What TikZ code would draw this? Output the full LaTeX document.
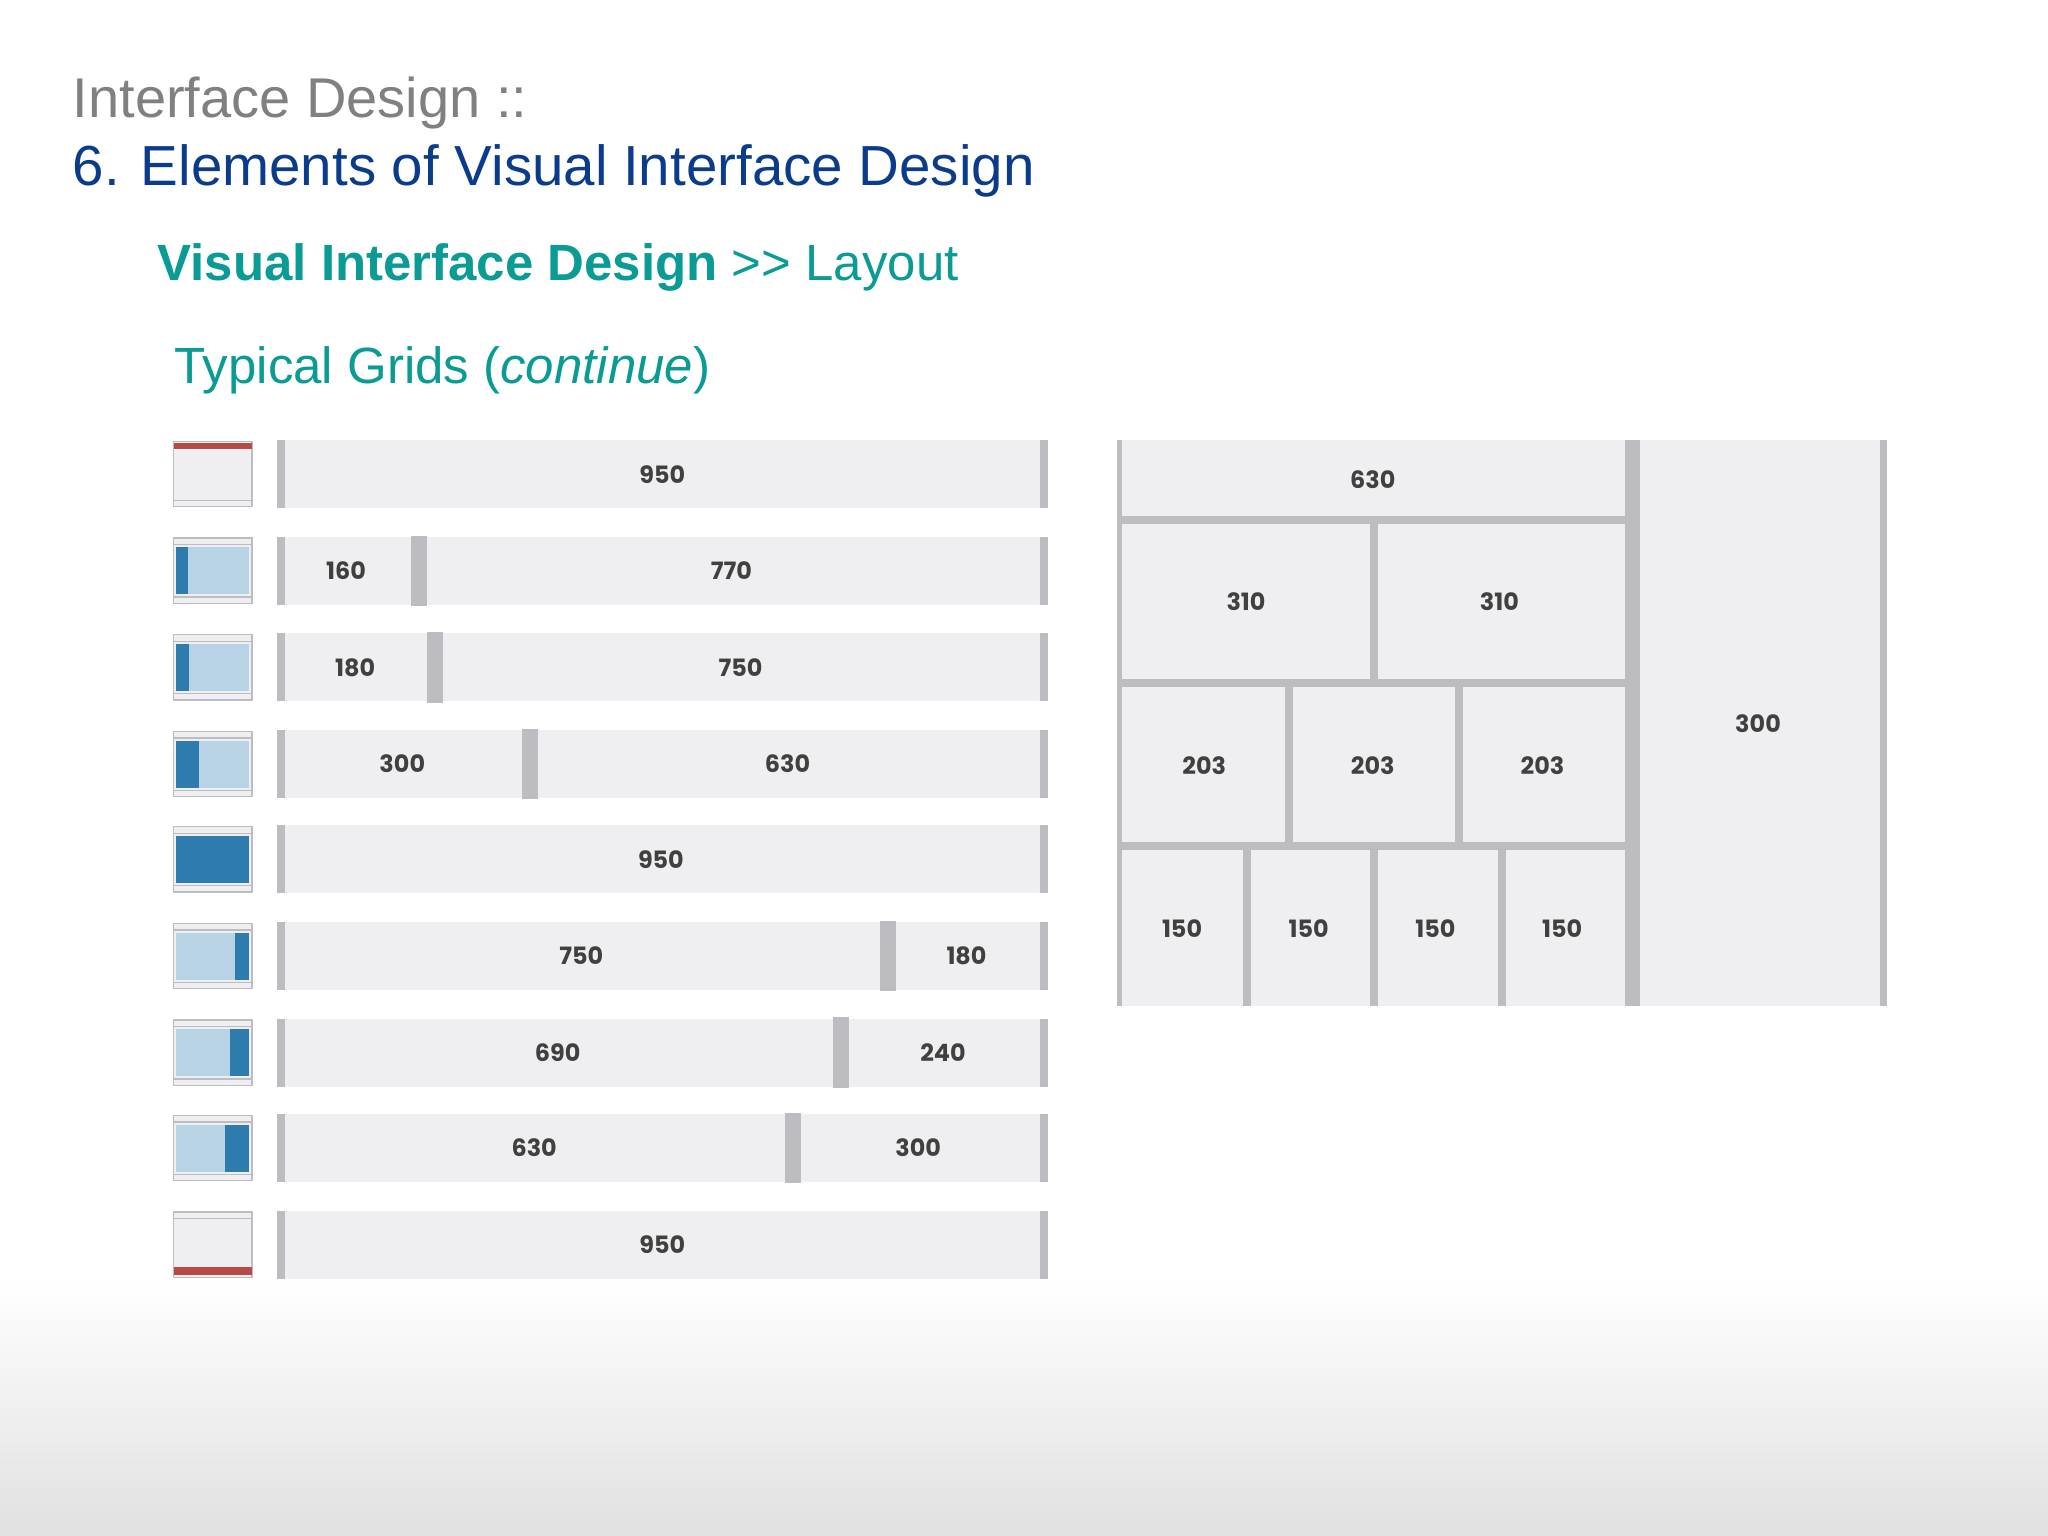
\documentclass[tikz,border=0pt]{standalone}
\usepackage{fontspec}
\setmainfont{Liberation Sans}
\newfontfamily\numfont{Poppins}
\definecolor{tgray}{HTML}{808080}
\definecolor{tblue}{HTML}{0B3C8C}
\definecolor{teal}{HTML}{0A9B94}
\definecolor{cellc}{HTML}{EFEFF1}
\definecolor{sepc}{HTML}{BDBDC1}
\definecolor{lblue}{HTML}{B8D3E6}
\definecolor{dblue}{HTML}{2E7BAE}
\definecolor{redc}{HTML}{B84A46}
\begin{document}
\begin{tikzpicture}[x=0.01cm,y=-0.01cm,
  cell/.style={fill=cellc},
  sep/.style={fill=sepc},
  num/.style={font=\numfont\fontsize{5.2}{6}\selectfont\bfseries,text=black!75}]
\useasboundingbox (0,0) rectangle (1568,1176);
\shade[top color=white,bottom color=black!12] (0,980) rectangle (1568,1176);
\node[anchor=base west,text=tgray,font=\fontsize{12.2}{14}\selectfont,inner sep=0] (t1) at (55,90) {Interface Design ::};
\node[anchor=base west,text=tblue,font=\fontsize{12.3}{14}\selectfont,inner sep=0] (t2) at (55,142) {6. Elements of Visual Interface Design};
\node[anchor=base west,text=teal,font=\fontsize{11.1}{13}\selectfont,inner sep=0] (t3) at (120,215) {\textbf{Visual Interface Design} {>}{>} Layout};
\node[anchor=base west,text=teal,font=\fontsize{11.1}{13}\selectfont,inner sep=0] (t4) at (133,294) {Typical Grids (\textit{continue})};
\foreach \y/\s/\ax/\a/\bx/\b in {363/0/507/950/0/,437/315/265/160/560/770,511/327/272/180/567/750,585/400/308/300/603/630,658/0/506/950/0/,732/674/445/750/740/180,806/638/427/690/722/240,879/601/409/630/703/300,953/0/507/950/0/}{
  \fill[cell] (212,\y-26) rectangle (802,\y+26);
  \fill[sep] (212,\y-26) rectangle (218,\y+26);
  \fill[sep] (796,\y-26) rectangle (802,\y+26);
  \ifnum\s>0 \fill[sep] (\s,\y-27) rectangle (\s+12,\y+27); \fi
  \node[num] at (\ax,\y) {\a};
  \ifnum\bx>0 \node[num] at (\bx,\y) {\b}; \fi
  \fill[cell,draw=sepc,line width=0.3pt] (133,\y-25) rectangle (193,\y+25);
  \draw[sepc,line width=0.3pt] (133,\y-20) -- (193,\y-20) (133,\y+20) -- (193,\y+20);
}
\fill[redc] (133,339) rectangle (193,344);
\fill[redc] (133,970) rectangle (193,976);
\foreach \y/\a in {437/135,511/135,585/135,732/135,806/135,879/135}{
  \fill[lblue] (\a,\y-18) rectangle (191,\y+18);
}
\fill[dblue] (135,419) rectangle (144,455);
\fill[dblue] (135,493) rectangle (145,529);
\fill[dblue] (135,567) rectangle (152,603);
\fill[dblue] (135,640) rectangle (191,676);
\fill[dblue] (180,714) rectangle (191,750);
\fill[dblue] (176,788) rectangle (191,824);
\fill[dblue] (172,861) rectangle (191,897);
\fill[cell] (855,337) rectangle (1445,770);
\fill[sep] (855,337) rectangle (859,770);
\fill[sep] (1244,337) rectangle (1256,770);
\fill[sep] (1439,337) rectangle (1445,770);
\fill[sep] (859,395) rectangle (1244,401);
\fill[sep] (859,520) rectangle (1244,526);
\fill[sep] (859,645) rectangle (1244,651);
\fill[sep] (1049,401) rectangle (1055,520);
\fill[sep] (984,526) rectangle (990,645);
\fill[sep] (1114,526) rectangle (1120,645);
\foreach \x in {952,1049,1147}{\fill[sep] (\x,651) rectangle (\x+6,770);}
\node[num] at (1051,367) {630};
\node[num] at (954,461) {310};
\node[num] at (1148,461) {310};
\node[num] at (922,586) {203};
\node[num] at (1051,586) {203};
\node[num] at (1181,586) {203};
\foreach \x in {905,1002,1099,1196}{\node[num] at (\x,711) {150};}
\node[num] at (1346,554) {300};
\end{tikzpicture}
\end{document}
